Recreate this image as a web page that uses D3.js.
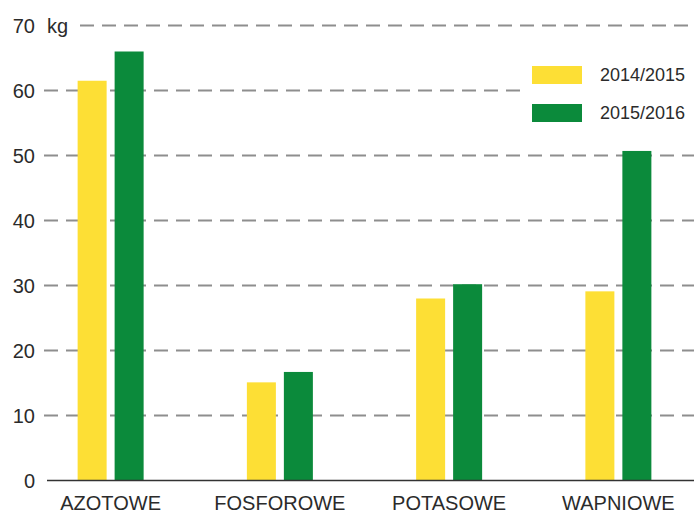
<!DOCTYPE html>
<html>
<head>
<meta charset="utf-8">
<script src="https://cdn.jsdelivr.net/npm/d3@7"></script>
<style>
  body { margin: 0; background: #fff; }
  svg { display: block; font-family: "Liberation Sans", Arial, sans-serif; }
</style>
</head>
<body>
<div id="chart"></div>
<script>
// data
const categories = ['AZOTOWE', 'FOSFOROWE', 'POTASOWE', 'WAPNIOWE'];
const seasons = ['2014/2015', '2015/2016'];
const values2014 = [61.5, 15.1, 28.0, 29.1];
const values2015 = [66.0, 16.7, 30.2, 50.7];
const yTicks = [0, 10, 20, 30, 40, 50, 60, 70];

const colors = { '2014/2015': '#fddf35', '2015/2016': '#0b8a3b' };

const width = 694, height = 515;

const svg = d3.select('#chart').append('svg')
  .attr('width', width)
  .attr('height', height);

const y = d3.scaleLinear().domain([0, 70]).range([480.5, 25.5]);

const x0 = d3.scaleBand().domain(categories).range([26, 703]);
const x1 = d3.scaleBand().domain(seasons).range([-33, 33]).paddingInner(0.216);

// dashed grid lines
svg.append('g')
  .selectAll('line')
  .data(yTicks.filter(d => d > 0))
  .join('line')
  .attr('x1', d => d === 70 ? 80 : 44)
  .attr('x2', width)
  .attr('y1', d => y(d))
  .attr('y2', d => y(d))
  .attr('stroke', '#8e8e8e')
  .attr('stroke-width', 2)
  .attr('stroke-dasharray', '14,8');

// tick labels
svg.append('g')
  .selectAll('text')
  .data(yTicks)
  .join('text')
  .attr('x', 35)
  .attr('y', d => y(d))
  .attr('dy', '0.35em')
  .attr('text-anchor', 'end')
  .attr('font-size', 20)
  .attr('fill', '#2b2b2b')
  .text(d => d);

svg.append('text')
  .attr('x', 47)
  .attr('y', y(70))
  .attr('dy', '0.35em')
  .attr('font-size', 20)
  .attr('fill', '#2b2b2b')
  .text('kg');

// bars
const rows = categories.map((c, i) => ({
  cat: c,
  vals: [
    { s: seasons[0], v: values2014[i] },
    { s: seasons[1], v: values2015[i] }
  ]
}));

svg.append('g')
  .selectAll('g')
  .data(rows)
  .join('g')
  .attr('transform', d => `translate(${x0(d.cat) + x0.bandwidth() / 2},0)`)
  .selectAll('rect')
  .data(d => d.vals)
  .join('rect')
  .attr('x', d => x1(d.s))
  .attr('width', x1.bandwidth())
  .attr('y', d => y(d.v))
  .attr('height', d => y(0) - y(d.v))
  .attr('fill', d => colors[d.s]);

// baseline
svg.append('line')
  .attr('x1', 47)
  .attr('x2', width)
  .attr('y1', y(0))
  .attr('y2', y(0))
  .attr('stroke', '#333')
  .attr('stroke-width', 1.5);

// category labels
svg.append('g')
  .selectAll('text')
  .data(categories)
  .join('text')
  .attr('x', d => x0(d) + x0.bandwidth() / 2)
  .attr('y', 510)
  .attr('text-anchor', 'middle')
  .attr('font-size', 20)
  .attr('fill', '#2b2b2b')
  .text(d => d);

// legend (white box hides the grid behind it)
const legend = svg.append('g');
legend.append('rect')
  .attr('x', 527).attr('y', 45)
  .attr('width', width - 527).attr('height', 90)
  .attr('fill', '#fff');

seasons.forEach((s, i) => {
  const ly = 66 + i * 38;
  legend.append('rect')
    .attr('x', 532).attr('y', ly)
    .attr('width', 50).attr('height', 18)
    .attr('fill', colors[s]);
  legend.append('text')
    .attr('x', 600).attr('y', ly + 9)
    .attr('dy', '0.35em')
    .attr('font-size', 18)
    .attr('fill', '#2b2b2b')
    .text(s);
});
</script>
</body>
</html>
